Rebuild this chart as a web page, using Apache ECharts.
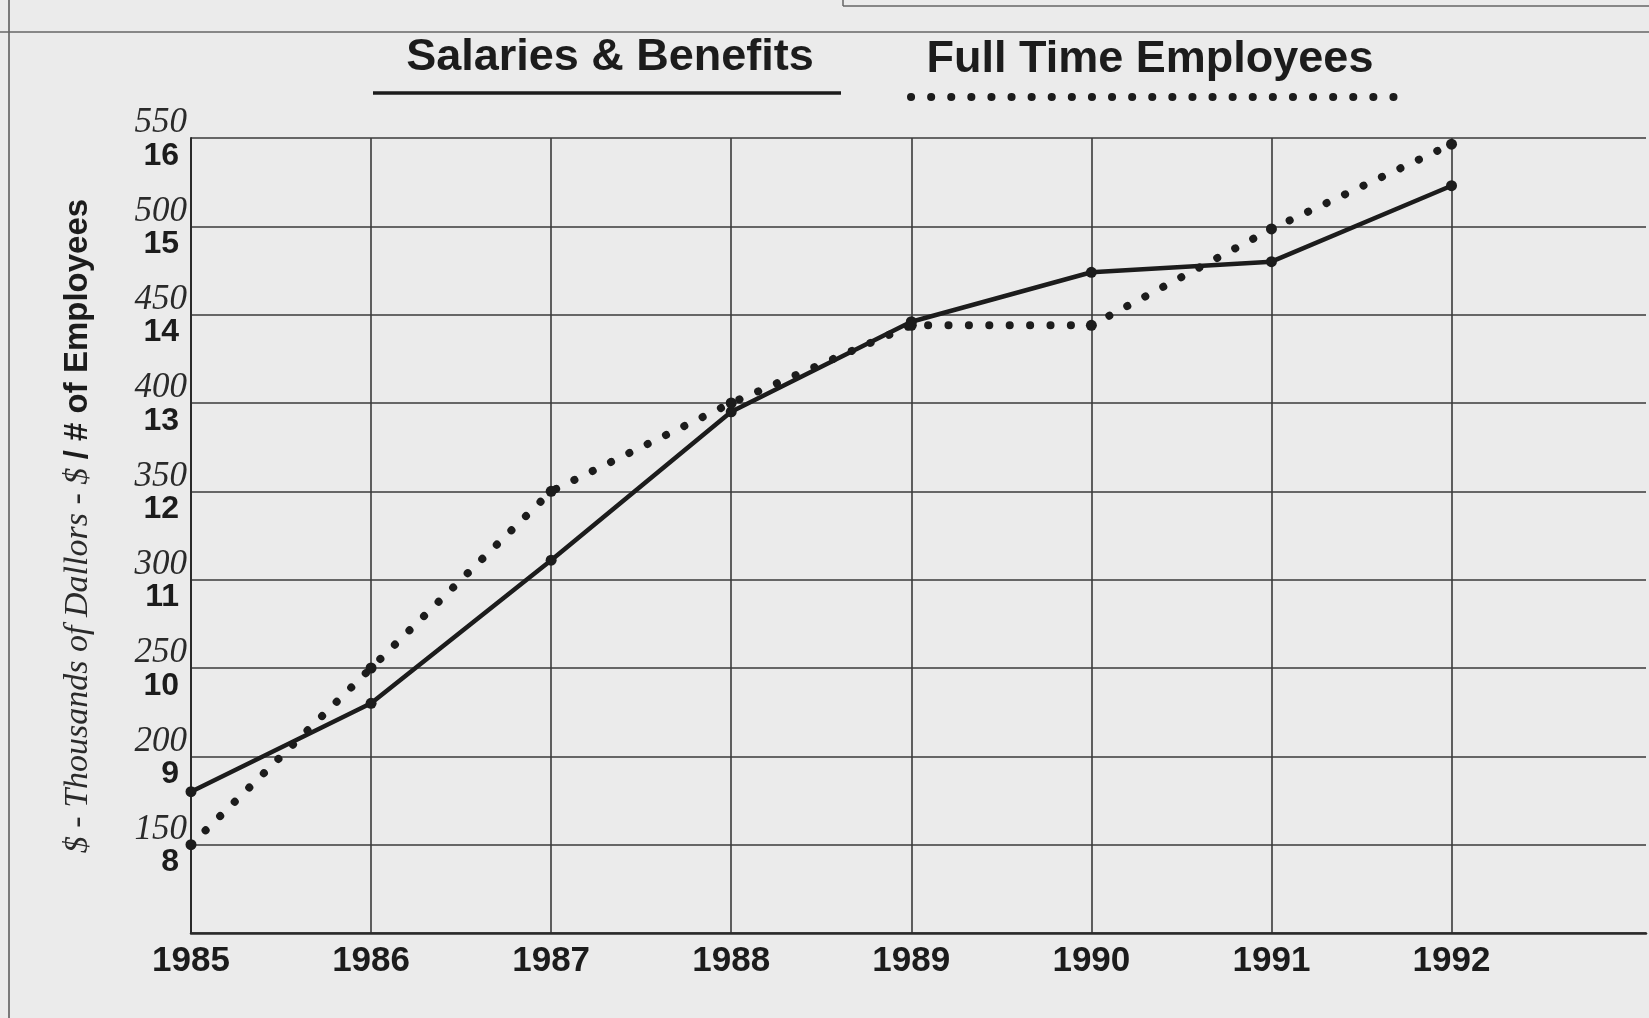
<!DOCTYPE html>
<html>
<head>
<meta charset="utf-8">
<script src="https://cdn.jsdelivr.net/npm/echarts@6/dist/echarts.min.js"></script>
<style>
  html, body { margin: 0; padding: 0; background: #ebebeb; }
  #chart { width: 1649px; height: 1018px; }
</style>
</head>
<body>
<div id="chart"></div>
<script>
// ---- data ----
var years = [1985, 1986, 1987, 1988, 1989, 1990, 1991, 1992];
var salaries = [180, 230, 311, 395, 446, 474, 480, 523];        // $ thousands
var employees = [8.0, 10.0, 12.0, 13.0, 13.88, 13.88, 14.97, 15.93]; // # of employees
var dollarTicks = { min: 100, max: 550, step: 50 };
var employeeTicks = { min: 7, max: 16, step: 1 };
var legendNames = ['Salaries & Benefits', 'Full Time Employees'];
var axisTitleItalic = '$ - Thousands of Dallors - $ ';
var axisTitleBold = '/ # of Employees';

var ink = '#1c1c1c';
var gridInk = '#3a3a3a';

var salaryData = years.map(function (y, i) { return [y, salaries[i]]; });
var employeeData = years.map(function (y, i) { return [y, employees[i]]; });

var splitColors = [];
years.forEach(function () { splitColors.push(gridInk); });
splitColors.push('rgba(0,0,0,0)', 'rgba(0,0,0,0)');

var chart = echarts.init(document.getElementById('chart'), null, { renderer: 'canvas' });
chart.setOption({
  backgroundColor: '#ebebeb',
  animation: false,
  textStyle: { fontFamily: 'Liberation Sans, Arial, sans-serif' },
  grid: { left: 191, right: 0, top: 138, bottom: 85, containLabel: false },
  xAxis: {
    type: 'value',
    min: years[0],
    max: 1993.08,
    interval: 1,
    axisLine: { show: true, lineStyle: { color: '#2a2a2a', width: 2.5 } },
    axisTick: { show: false },
    splitLine: { show: true, lineStyle: { color: splitColors, width: 1.6 } },
    axisLabel: {
      margin: 11,
      fontSize: 35,
      fontWeight: 'bold',
      color: ink,
      fontFamily: 'Liberation Sans, Arial, sans-serif',
      formatter: function (v) {
        return (Math.abs(v - Math.round(v)) < 1e-6 && v <= years[years.length - 1]) ? String(Math.round(v)) : '';
      }
    }
  },
  yAxis: [
    {
      type: 'value',
      position: 'left',
      min: dollarTicks.min,
      max: dollarTicks.max,
      interval: dollarTicks.step,
      axisLine: { show: true, lineStyle: { color: '#2a2a2a', width: 2 } },
      axisTick: { show: false },
      splitLine: { show: true, lineStyle: { color: gridInk, width: 1.6 } },
      axisLabel: {
        showMinLabel: false,
        margin: 4,
        fontSize: 35,
        fontStyle: 'italic',
        fontFamily: 'Liberation Serif, Times New Roman, serif',
        color: '#2a2a2a',
        verticalAlign: 'bottom',
        lineHeight: 30
      }
    },
    {
      type: 'value',
      position: 'left',
      min: employeeTicks.min,
      max: employeeTicks.max,
      interval: employeeTicks.step,
      axisLine: { show: false },
      axisTick: { show: false },
      splitLine: { show: false },
      axisLabel: {
        showMinLabel: false,
        margin: 12,
        fontSize: 32,
        fontWeight: 'bold',
        fontFamily: 'Liberation Sans, Arial, sans-serif',
        color: ink,
        verticalAlign: 'top',
        lineHeight: 36
      }
    }
  ],
  series: [
    {
      name: legendNames[0],
      type: 'line',
      yAxisIndex: 0,
      data: salaryData,
      symbol: 'circle',
      symbolSize: 11,
      itemStyle: { color: ink },
      lineStyle: { color: ink, width: 4.5 },
      z: 3
    },
    {
      name: legendNames[1],
      type: 'line',
      yAxisIndex: 1,
      data: employeeData,
      symbol: 'circle',
      symbolSize: 11,
      itemStyle: { color: ink },
      lineStyle: { color: ink, width: 8, type: [0.1, 20.3], cap: 'round' },
      z: 4
    }
  ],
  graphic: [
    // page border artefacts
    { type: 'line', shape: { x1: 9, y1: 0, x2: 9, y2: 1018 }, style: { stroke: '#555', lineWidth: 1.5 }, silent: true },
    { type: 'line', shape: { x1: 0, y1: 32, x2: 1649, y2: 32 }, style: { stroke: '#666', lineWidth: 1.5 }, silent: true },
    { type: 'line', shape: { x1: 843, y1: 6, x2: 1649, y2: 6 }, style: { stroke: '#666', lineWidth: 1.5 }, silent: true },
    { type: 'line', shape: { x1: 843, y1: 0, x2: 843, y2: 6 }, style: { stroke: '#666', lineWidth: 1.5 }, silent: true },
    // legend
    {
      type: 'text', x: 610, y: 58,
      style: {
        text: legendNames[0], fill: ink,
        font: 'bold 45px "Liberation Sans", Arial, sans-serif',
        align: 'center', verticalAlign: 'middle',
        textAlign: 'center', textVerticalAlign: 'middle'
      }
    },
    { type: 'line', shape: { x1: 373, y1: 93, x2: 841, y2: 93 }, style: { stroke: ink, lineWidth: 3.5 } },
    {
      type: 'text', x: 1150, y: 60,
      style: {
        text: legendNames[1], fill: ink,
        font: 'bold 45px "Liberation Sans", Arial, sans-serif',
        align: 'center', verticalAlign: 'middle',
        textAlign: 'center', textVerticalAlign: 'middle'
      }
    },
    { type: 'line', shape: { x1: 911, y1: 97, x2: 1398, y2: 97 }, style: { stroke: ink, lineWidth: 8, lineDash: [0.1, 20.0], lineCap: 'round' } },
    // y axis title
    {
      type: 'text', x: 78, y: 526, rotation: Math.PI / 2,
      style: {
        text: '{a|' + axisTitleItalic + '}{b|' + axisTitleBold + '}',
        align: 'center', verticalAlign: 'middle',
        textAlign: 'center', textVerticalAlign: 'middle',
        rich: {
          a: { fontFamily: 'Liberation Serif, Times New Roman, serif', fontStyle: 'italic', fontSize: 34, fill: '#2a2a2a', color: '#2a2a2a' },
          b: { fontFamily: 'Liberation Sans, Arial, sans-serif', fontWeight: 'bold', fontSize: 33, fill: ink, color: ink }
        }
      }
    }
  ]
});
</script>
</body>
</html>
